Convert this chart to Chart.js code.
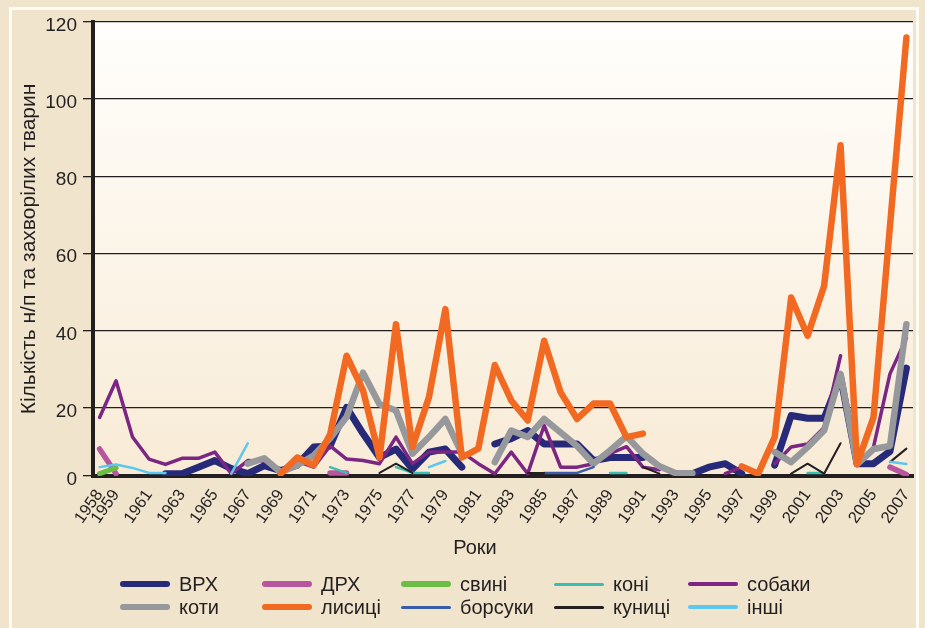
<!DOCTYPE html>
<html>
<head>
<meta charset="utf-8">
<script src="https://cdn.jsdelivr.net/npm/chart.js@4.4.1/dist/chart.umd.min.js"></script>
<style>
    body { margin: 0; background: #f1e4cc; }
    #wrap { position: relative; width: 925px; height: 628px; overflow: hidden; background: #f1e4cc;
            font-family: "Liberation Sans", Arial, sans-serif; color: #231f20; }
    #frame { position: absolute; left: 9px; top: 7px; width: 904px; height: 700px; border: 3px solid #fffcf4; }
    #c { position: absolute; left: 0; top: 0; }
    #xtitle { position: absolute; left: 0; width: 950px; top: 536px; text-align: center; font-size: 20px; }
    .lg { position: absolute; height: 24px; display: flex; align-items: center; font-size: 20px; white-space: nowrap; }
    .sw { display: inline-block; width: 50px; border-radius: 4px; margin-right: 9px; }
</style>
</head>
<body>
<div id="wrap">
    <div id="frame"></div>
    <canvas id="c" width="925" height="628"></canvas>
    <div id="xtitle">Роки</div>
</div>
<script>
// ---------------- data ----------------
const years = [1958, 1959, 1960, 1961, 1962, 1963, 1964, 1965, 1966, 1967,
               1968, 1969, 1970, 1971, 1972, 1973, 1974, 1975, 1976, 1977,
               1978, 1979, 1980, 1981, 1982, 1983, 1984, 1985, 1986, 1987,
               1988, 1989, 1990, 1991, 1992, 1993, 1994, 1995, 1996, 1997,
               1998, 1999, 2000, 2001, 2002, 2003, 2004, 2005, 2006, 2007]

const xTickYears = [1958, 1959, 1961, 1963, 1965, 1967, 1969, 1971, 1973, 1975, 1977, 1979,
                    1981, 1983, 1985, 1987, 1989, 1991, 1993, 1995, 1997, 1999, 2001, 2003, 2005, 2007]
const yTicks = [0, 20, 40, 60, 80, 100, 120]

const vrh = [null, null, null, null, 2.8, 2.8, 4.5, 6.2, 4.1, 2.8,
             4.9, 3.6, 5, 9.7, 10, 20, 13.2, 7, 9.2, 4,
             8.4, 9.2, 4.5, null, 10.5, 11.9, 14, 10.5, 10.5, 10.5,
             6.2, 7, 7, 7, null, null, 2.8, 4.5, 5.4, 2.8,
             null, 5, 17.9, 17.2, 17.2, 28, 5.4, 5.4, 8.6, 30.2]
const drh = [9.2, 2.8, null, null, null, null, null, null, null, null,
             null, null, null, null, 3, 3, null, null, null, null,
             null, null, null, null, null, null, null, null, null, null,
             null, null, null, null, null, null, null, null, null, null,
             null, null, null, null, null, null, null, null, 4.5, 2.6]
const svyni = [2.8, 4.3, null, null, null, null, null, null, null, null,
               null, null, null, null, null, null, null, null, null, null,
               null, null, null, null, null, null, null, null, null, null,
               null, null, null, null, null, null, null, null, null, null,
               null, null, null, null, null, null, null, null, null, null]
const koni = [null, null, null, null, null, null, null, null, null, null,
              null, null, null, null, 4.5, 3, null, null, 4.5, 3,
              3, null, null, null, null, null, null, null, null, null,
              null, 3, 3, null, null, null, null, null, null, null,
              null, null, null, 3, 3, null, null, null, null, null]
const sobaky = [17.4, 26.9, 12.3, 6.6, 5.2, 6.8, 6.8, 8.4, 2.8, 6.2,
                6, 3.5, 6, 4.5, 10, 6.6, 6.2, 5.4, 12.3, 5.4,
                8.4, 8.4, 8.4, 5.4, 2.8, 8.4, 2.8, 15.3, 4.5, 4.5,
                5.4, 8, 9.8, 4.5, 3.8, null, null, null, 2.8, 4.5,
                null, 5.4, 9.7, 10.5, 14.8, 33.4, null, 9.7, 28.7, 38]
const koty = [null, null, null, null, null, null, null, null, null, 5.4,
              6.8, 3.2, 5, 7.5, 12, 17.5, 29, 20.8, 19.2, 8,
              12.3, 17, 8, null, 5.8, 14, 12.3, 17, 13.5, 10,
              5.4, 8.8, 12.5, 8, 4.7, 2.9, 2.9, null, null, null,
              null, 8.4, 5.8, 9.7, 14, 28.7, 5.2, 9.2, 10, 41.6]
const lysytsi = [null, null, null, null, null, null, null, null, null, null,
                 null, 2.8, 7, 5, 13, 33.4, 24.4, 7, 41.6, 9.7,
                 22.6, 45.5, 7, 9.3, 31, 21.8, 16.6, 37.3, 23.9, 17,
                 21, 21, 12.3, 13.2, null, null, null, null, null, 4.7,
                 2.8, 12.3, 48.5, 38.6, 51.5, 88, 5.3, 17.4, 67, 116]
const borsuky = [null, null, null, null, null, null, null, null, null, null,
                 null, null, null, null, null, null, null, null, null, null,
                 null, null, null, null, null, null, null, 3, 3, 3,
                 4.5, null, null, null, null, null, null, null, null, null,
                 null, null, null, null, null, null, null, null, null, null]
const kunytsi = [null, null, null, null, null, null, null, null, null, null,
                 null, null, null, null, null, null, null, 3, 5.4, 3,
                 null, null, null, null, null, null, 3, 3, null, null,
                 null, null, null, 4.5, 2.8, null, null, null, null, null,
                 null, null, 2.8, 5.4, 2.8, 10.7, null, null, 5.8, 9.3]
const inshi = [4.5, 5.2, 4.3, 3, 3, null, null, null, 2.8, 10.7,
               null, null, null, null, null, null, null, null, null, null,
               4.5, 6.1, null, null, null, null, null, null, null, null,
               null, null, null, null, null, null, null, null, null, null,
               null, null, null, null, null, null, null, null, 5.9, 5.3]

// ---------------- series look ----------------
const seriesNames = ["ВРХ", "ДРХ", "свині", "коні", "собаки", "коти", "лисиці", "борсуки", "куниці", "інші"]
const seriesData = [vrh, drh, svyni, koni, sobaky, koty, lysytsi, borsuky, kunytsi, inshi]
const seriesColors = ["#262a78", "#b8559f", "#6bbd45", "#3cbdb1", "#7a2682",
                      "#97989c", "#f26a21", "#3a5cad", "#231f20", "#5cc7ef"]
const lineWidths = [7, 5.5, 5, 2.5, 3.5, 6.5, 6.5, 2.5, 2, 2.5]
const legendWidths = [6, 6, 6, 3, 4, 6, 6, 3, 3, 4]

// the x axis of the picture lies slightly above 0, the "0" label sits on it
const Y_MIN = 2.2

let datasets = seriesData.map(function(vals, i) {
    return {
        label: seriesNames[i],
        data: years.map(function(yr, k) { return {x: yr, y: vals[k]} }),
        borderColor: seriesColors[i],
        backgroundColor: seriesColors[i],
        borderWidth: lineWidths[i],
        borderCapStyle: "round",
        borderJoinStyle: "round",
        pointRadius: 0,
        tension: 0,
        spanGaps: false,
        order: seriesData.length - i   // later series on top, like the original
    }
})

const plotBg = {
    id: "plotBg",
    beforeDraw: function(chart) {
        let a = chart.chartArea
        let ctx = chart.ctx
        let g = ctx.createLinearGradient(0, a.top, 0, a.bottom)
        g.addColorStop(0, "#fffefc")
        g.addColorStop(1, "#f8ebd6")
        ctx.save()
        ctx.fillStyle = g
        ctx.fillRect(a.left, a.top, a.right - a.left, a.bottom - a.top)
        ctx.restore()
    }
}

Chart.defaults.font.family = '"Liberation Sans", Arial, sans-serif'
Chart.defaults.color = "#231f20"

let chart = new Chart(document.getElementById("c").getContext("2d"), {
    type: "line",
    data: { datasets: datasets },
    plugins: [plotBg],
    options: {
        responsive: false,
        animation: false,
        layout: { padding: { left: 17, right: 12, top: 22, bottom: 80 } },
        plugins: { legend: { display: false }, tooltip: { enabled: false } },
        scales: {
            x: {
                type: "linear",
                min: 1957.6,
                max: 2007.4,
                afterBuildTicks: function(scale) {
                    scale.ticks = xTickYears.map(function(v) { return {value: v} })
                },
                afterFit: function(scale) {
                    scale.height = 72
                    scale.paddingLeft = 0
                    scale.paddingRight = 0
                },
                grid: { display: false, drawTicks: false },
                border: { display: true, width: 4, color: "#231f20" },
                ticks: {
                    autoSkip: false,
                    minRotation: 55,
                    maxRotation: 55,
                    padding: 10,
                    font: { size: 16.5 },
                    color: "#231f20",
                    callback: function(v) { return String(v) }
                }
            },
            y: {
                min: Y_MIN,
                max: 120,
                afterBuildTicks: function(scale) {
                    scale.ticks = yTicks.map(function(v) { return {value: v === 0 ? Y_MIN : v} })
                },
                afterFit: function(scale) { scale.width = 76 },
                grid: { color: "#231f20", lineWidth: 1.3, tickLength: 10, tickColor: "#231f20", tickWidth: 1.3 },
                border: { display: true, width: 4, color: "#231f20" },
                ticks: {
                    padding: 6,
                    labelOffset: 4,
                    font: { size: 19 },
                    color: "#231f20",
                    callback: function(v) { return v === Y_MIN ? "0" : String(v) }
                },
                title: {
                    display: true,
                    text: "Кількість н/п та захворілих тварин",
                    font: { size: 21 },
                    color: "#231f20",
                    padding: { top: 0, bottom: 0 }
                }
            }
        }
    }
})

// legend in two rows of five, columns lined up as in the original
const legendCols = [120, 262, 401, 554, 688]
const legendRows = [584, 607]
let wrap = document.getElementById("wrap")
chart.data.datasets.forEach(function(ds, i) {
    let item = document.createElement("div")
    item.className = "lg"
    item.style.left = legendCols[i % 5] + "px"
    item.style.top = (legendRows[Math.floor(i / 5)] - 12) + "px"
    let sw = document.createElement("span")
    sw.className = "sw"
    sw.style.background = ds.borderColor
    sw.style.height = legendWidths[i] + "px"
    item.appendChild(sw)
    item.appendChild(document.createTextNode(ds.label))
    wrap.appendChild(item)
})
</script>
</body>
</html>
